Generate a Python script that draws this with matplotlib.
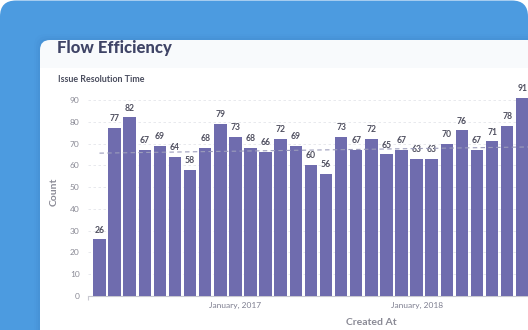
import matplotlib
matplotlib.use("Agg")
import matplotlib.pyplot as plt
from matplotlib.patches import FancyBboxPatch, Rectangle
from matplotlib.transforms import IdentityTransform
import numpy as np

# Monthly issue resolution counts, April 2016 - August 2018
counts = [26, 77, 82, 67, 69, 64, 58, 68, 79, 73, 68, 66, 72, 69, 60,
          56, 73, 67, 72, 65, 67, 63, 63, 70, 76, 67, 71, 78, 91]
tick_positions = [9, 21]
tick_labels = ["January, 2017", "January, 2018"]
trend_x = [0, 29]
trend_y = [65.6, 68.5]

W, H, DPI = 528, 330, 100
plt.rcParams["font.family"] = ["Lato", "DejaVu Sans"]

fig = plt.figure(figsize=(W / DPI, H / DPI), dpi=DPI, facecolor="white")
px = IdentityTransform()

# Blue backdrop with rounded corners
fig.patches.append(FancyBboxPatch((0, -40), W, H + 40 - 0.5,
                                  boxstyle="round,pad=0,rounding_size=16",
                                  transform=px, facecolor="#4c9be0",
                                  edgecolor="none", zorder=0))
# soft shadow above the card
for i, a in enumerate([0.05, 0.04, 0.03, 0.02]):
    fig.patches.append(FancyBboxPatch((40 - i * 2, -20), W, H - 40 + 20 + i * 2,
                                      boxstyle="round,pad=0,rounding_size=12",
                                      transform=px, facecolor="#1a4f90",
                                      alpha=a, edgecolor="none", zorder=1))
# Card: light header band, then white body
fig.patches.append(FancyBboxPatch((40, -20), W, H - 40 + 20,
                                  boxstyle="round,pad=0,rounding_size=10",
                                  transform=px, facecolor="#f8fafc",
                                  edgecolor="none", zorder=2))
fig.patches.append(Rectangle((40, -20), W, H - 68 + 20, transform=px,
                             facecolor="white", edgecolor="none", zorder=3))

fig.text(57 / W, 1 - 48.5 / H, "Flow Efficiency", fontsize=12, fontweight="black",
         color="#3f4466", ha="left", va="center", zorder=5)
fig.text(58 / W, 1 - 79 / H, "Issue Resolution Time", fontsize=6.4, fontweight="bold",
         color="#4a4d5e", ha="left", va="center", zorder=5)

# Chart axes (extends past the right edge of the card)
ax_left, ax_right = 88, 654
ax_bottom, ymax = 296, 96
ppu_y = 196 / 90
ax_top = ax_bottom - ymax * ppu_y
ax = fig.add_axes([ax_left / W, 1 - ax_bottom / H,
                   (ax_right - ax_left) / W, (ax_bottom - ax_top) / H], zorder=6)
ax.patch.set_alpha(0)

ppu_x = 15.1
x = np.arange(len(counts))
ax.set_xlim((ax_left - 99.5) / ppu_x, (ax_right - 99.5) / ppu_x)
ax.set_ylim(0, ymax)

ax.bar(x, counts, width=0.83, color="#6f6cae", zorder=3)
for xi, v in zip(x, counts):
    ax.annotate(str(v), (xi, v), xytext=(0, 3.5), textcoords="offset points",
                ha="center", va="bottom", fontsize=6.2, fontweight="bold",
                color="#505060", zorder=4)

ax.plot(trend_x, trend_y, linestyle=(0, (4, 3)), color="#9c9dbb",
        linewidth=0.8, zorder=4)

ax.set_yticks(range(0, 91, 10))
ax.yaxis.grid(True, linestyle=(0, (3, 3)), color="#e4e5ea", linewidth=0.6, zorder=0)
ax.set_axisbelow(True)
ax.tick_params(axis="y", length=0, pad=6, labelsize=6, labelcolor="#8a8a95")
ax.set_xticks(tick_positions)
ax.set_xticklabels(tick_labels, fontsize=6, fontweight="normal", color="#7e7f90")
ax.tick_params(axis="x", length=0, pad=4)
ax.set_xticks([ax.get_xlim()[0]], minor=True)
ax.tick_params(axis="x", which="minor", length=3, color="#c8c8d0", width=0.8)

for side in ["top", "right", "left"]:
    ax.spines[side].set_visible(False)
ax.spines["bottom"].set_color("#c8c8d0")
ax.spines["bottom"].set_linewidth(0.8)

ax.set_ylabel("Count", fontsize=7.5, fontweight="bold", color="#8a8a95", labelpad=8)
ax.set_xlabel("Created At", fontsize=7.5, fontweight="bold", color="#8a8a95", labelpad=7)

fig.savefig("out.png", dpi=DPI, facecolor="white")
